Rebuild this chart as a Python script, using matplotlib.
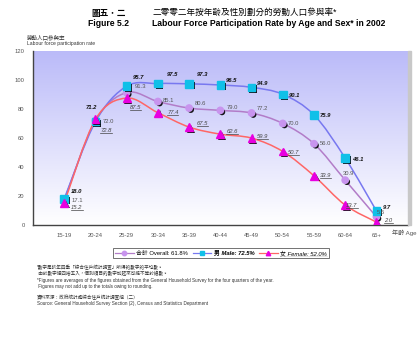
import numpy as np
import matplotlib
matplotlib.use("Agg")
import matplotlib.pyplot as plt
from matplotlib.path import Path
from matplotlib.patches import PathPatch
from matplotlib.lines import Line2D
import matplotlib.patheffects as pe

plt.rcParams['font.family'] = ['Liberation Sans', 'Noto Sans CJK TC']

yas_gruplari = ["15-19", "20-24", "25-29", "30-34", "35-39", "40-44",
                "45-49", "50-54", "55-59", "60-64", "65+"]
erkek = [18.0, 71.2, 95.7, 97.5, 97.3, 96.5, 94.9, 90.1, 75.9, 46.1, 9.7]
genel = [17.1, 72.0, 91.3, 85.1, 80.6, 79.0, 77.2, 70.0, 56.0, 30.9, 5.6]
kadin = [15.2, 72.8, 87.5, 77.4, 67.5, 62.6, 59.9, 50.7, 33.9, 13.7, 2.0]
y_ticks = [0, 20, 40, 60, 80, 100, 120]

legend_labels = ["合計 Overall: 61.8%", "男 Male: 72.5%", "女 Female: 52.0%"]


def yumusak_yol(xs, ys):
    """Noktalardan geçen yumuşak (Bezier) bir yol üretir."""
    p = np.column_stack([xs, ys]).astype(float)
    n = len(p)
    verts = [p[0]]
    codes = [Path.MOVETO]
    for i in range(n - 1):
        p0 = p[i - 1] if i > 0 else p[i]
        p3 = p[i + 2] if i + 2 < n else p[i + 1]
        c1 = p[i] + (p[i + 1] - p0) / 6
        c2 = p[i + 1] - (p3 - p[i]) / 6
        verts += [c1, c2, p[i + 1]]
        codes += [Path.CURVE4] * 3
    return Path(verts, codes)


fig = plt.figure(figsize=(4.2, 3.44), dpi=100)
ax = fig.add_axes([0.0786, 0.346, 0.892, 0.506])

x = np.arange(len(yas_gruplari))
ax.set_xlim(-1, len(yas_gruplari))
ax.set_ylim(0, 120)

# arka plan gradyanı
grad = np.linspace(0, 1, 256).reshape(-1, 1)
ust = np.array([0.73, 0.73, 0.975])
alt = np.array([1.0, 1.0, 1.0])
renk = ust * grad + alt * (1 - grad)
ax.imshow(renk[:, None, :].repeat(2, axis=1), extent=(-1, len(yas_gruplari), 0, 120),
          aspect='auto', origin='lower', zorder=0)

seriler = [
    (genel, "#b27cc8", "o", "#c894ee", 4.6),
    (erkek, "#7878f0", "s", "#10c0e8", 5.4),
    (kadin, "#ff6666", "^", "#e800e0", 5.6),
]
golge = [pe.SimplePatchShadow(offset=(1.2, -1.2), shadow_rgbFace='black', alpha=0.9), pe.Normal()]
for veri, cizgi, mk, mrenk, ms in seriler:
    ax.add_patch(PathPatch(yumusak_yol(x, veri), fill=False, edgecolor=cizgi,
                           lw=1.1, zorder=2))
for veri, cizgi, mk, mrenk, ms in seriler:
    ax.plot(x, veri, linestyle='none', marker=mk, ms=ms, mfc=mrenk, mec=mrenk,
            zorder=3, path_effects=golge)

# etiketler
erkek_ofset = [(7, 7), (-10, 14), (6, 9), (9, 9), (8, 9), (6, 4), (5, 4), (6, -1), (6, -1), (7, -1), (6, 3)]
genel_ofset = [(7, 0), (7, -1), (8, 6), (5, 1), (6, 5), (6, 3), (5, 4), (5, 0), (6, 0), (-2, 7), (0, 4)]
kadin_ofset = [(7, -5), (5, -11), (3, -9), (9, 0), (8, 4), (6, 3), (5, 2), (5, -1), (6, 0), (1, 0), (8, 2)]
kadin_etiket = []
for i in range(len(x)):
    ax.annotate(f"{erkek[i]:.1f}", (x[i], erkek[i]), xytext=erkek_ofset[i],
                textcoords='offset pixels', fontsize=4.2, fontweight='bold',
                fontstyle='italic', color='#111111', va='center', ha='left', zorder=5)
    ax.annotate(f"{genel[i]:.1f}", (x[i], genel[i]), xytext=genel_ofset[i],
                textcoords='offset pixels', fontsize=4.2, color='#555555',
                va='center', ha='left', zorder=5)
    t = ax.annotate(f"{kadin[i]:.1f}", (x[i], kadin[i]), xytext=kadin_ofset[i],
                    textcoords='offset pixels', fontsize=4.2, fontstyle='italic',
                    color='#444444', va='center', ha='left', zorder=5)
    kadin_etiket.append(t)

ax.set_xticks(x)
ax.set_xticklabels(yas_gruplari)
ax.set_yticks(y_ticks)
ax.tick_params(labelsize=4.2, colors='#555555', length=0, pad=6)
for s in ['top', 'right']:
    ax.spines[s].set_visible(False)
for s in ['left', 'bottom']:
    ax.spines[s].set_color('#444444')
    ax.spines[s].set_linewidth(1.0)

# sağ gölge şeridi
fig.patches.append(plt.Rectangle((0.971, 0.346), 0.008, 0.506, transform=fig.transFigure,
                                 color='#c8c8c8', zorder=0))

fig.text(0.934, 0.323, "年齡 Age", fontsize=4.4, color='#555555', va='center')

# başlıklar
fig.text(0.258, 0.962, "圖五．二", fontsize=6.2, fontweight='bold', ha='center', va='center')
fig.text(0.258, 0.932, "Figure 5.2", fontsize=6.2, fontweight='bold', ha='center', va='center')
fig.text(0.362, 0.965, "二零零二年按年齡及性別劃分的勞動人口參與率*", fontsize=6.2, va='center')
fig.text(0.362, 0.932, "Labour Force Participation Rate by Age and Sex* in 2002",
         fontsize=6.2, fontweight='bold', va='center')
fig.text(0.064, 0.892, "勞動人口參與率", fontsize=4.0, va='center', color='#333333')
fig.text(0.064, 0.873, "Labour force participation rate", fontsize=3.6, va='center', color='#333333')

# lejant
tutucular = [Line2D([], [], color=c, marker=m, mfc=f, mec=f, ms=3.2, lw=0.9)
             for _, c, m, f, _ in seriler]
leg = fig.legend(tutucular, legend_labels, loc='center', bbox_to_anchor=(0.526, 0.264),
                 ncol=3, fontsize=4.2, frameon=True, fancybox=False, handlelength=3.2,
                 columnspacing=0.8, handletextpad=0.4, borderpad=0.35)
leg.get_frame().set_edgecolor('#333333')
leg.get_frame().set_linewidth(0.6)
leg.get_texts()[1].set_fontweight('bold')
leg.get_texts()[1].set_fontstyle('italic')
leg.get_texts()[2].set_fontstyle('italic')

# dipnotlar
notlar = [
    "*數字是該年四季「綜合住戶統計調查」所得的數字的平均數。",
    " 由於數字經四捨五入，個別項目的數字加起來可能不等於總數。",
    "*Figures are averages of the figures obtained from the General Household Survey for the four quarters of the year.",
    " Figures may not add up to the totals owing to rounding.",
]
for j, satir in enumerate(notlar):
    fig.text(0.088, 0.222 - j * 0.018, satir, fontsize=3.3, color='#333333', va='center')
fig.text(0.088, 0.134, "資料來源：政府統計處綜合住戶統計調查組（二）", fontsize=3.3, color='#333333', va='center')
fig.text(0.088, 0.117, "Source: General Household Survey Section (2), Census and Statistics Department",
         fontsize=3.3, color='#333333', va='center')

# kadın etiketlerinin altını çiz
fig.canvas.draw()
r = fig.canvas.get_renderer()
for t in kadin_etiket + [leg.get_texts()[2]]:
    bb = t.get_window_extent(r)
    fig.add_artist(Line2D([bb.x0, bb.x1], [bb.y0, bb.y0], transform=None,
                          color='#444444', lw=0.5))

fig.savefig("out.png", dpi=100)
